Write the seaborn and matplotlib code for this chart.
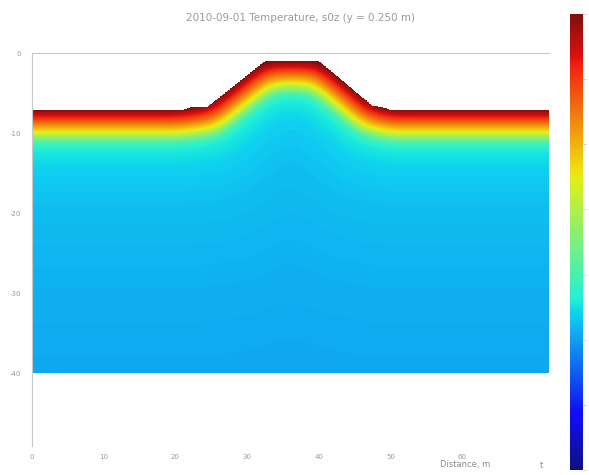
import numpy as np
import matplotlib
matplotlib.use("Agg")
import matplotlib.pyplot as plt
from matplotlib.colors import ListedColormap, Normalize
import seaborn as sns

# ground surface profile (distance m, elevation m)
surf_x = [0.0, 21.0, 22.0, 24.5, 32.5, 40.0, 47.5, 49.0, 50.0, 72.0]
surf_z = [-7.1, -7.1, -6.8, -6.7, -1.0, -1.0, -6.6, -6.8, -7.1, -7.1]
bottom_z = -40.0

# temperature (normalised colour value) versus depth below surface, m
prof_depth = [0.0, 0.6, 1.2, 2.0, 2.8, 3.5, 4.2, 5.0, 7.5, 12.0, 22.0, 33.0]
prof_temp = [1.00, 0.93, 0.85, 0.75, 0.64, 0.52, 0.42, 0.37, 0.34, 0.32, 0.305, 0.295]

title = "2010-09-01 Temperature, s0z (y = 0.250 m)"
xticks = [0, 10, 20, 30, 40, 50, 60]
yticks = [0, -10, -20, -30, -40]

sns.set_theme(style="white")
plt.rcParams['font.family'] = ['DejaVu Sans']

# slightly washed-out jet, like the reference
base = plt.get_cmap("jet")(np.linspace(0, 1, 256))
base[:, :3] = base[:, :3] * 0.88 + 0.06
cmap = ListedColormap(base)

# grid
gx = np.linspace(0, 72, 721)
gz = np.linspace(bottom_z, 0, 801)
X, Z = np.meshgrid(gx, gz)
S = np.interp(X, surf_x, surf_z)
inside = Z <= S

# signed distance to surface polyline (positive below ground)
dist = np.full(X.shape, np.inf)
for i in range(len(surf_x) - 1):
    ax_, az_ = surf_x[i], surf_z[i]
    bx_, bz_ = surf_x[i + 1], surf_z[i + 1]
    vx, vz = bx_ - ax_, bz_ - az_
    t = ((X - ax_) * vx + (Z - az_) * vz) / (vx * vx + vz * vz)
    t = np.clip(t, 0, 1)
    d = np.hypot(X - (ax_ + t * vx), Z - (az_ + t * vz))
    dist = np.minimum(dist, d)
sdist = np.where(inside, dist, -dist)


def blur(a, sig):
    dx, dz = gx[1] - gx[0], gz[1] - gz[0]
    nx, nz = int(4 * sig / dx), int(4 * sig / dz)
    kx = np.exp(-0.5 * (np.arange(-nx, nx + 1) * dx / sig) ** 2)
    kz = np.exp(-0.5 * (np.arange(-nz, nz + 1) * dz / sig) ** 2)
    kx /= kx.sum()
    kz /= kz.sum()
    a = np.pad(a, ((0, 0), (nx, nx)), mode="edge")
    a = np.apply_along_axis(lambda r: np.convolve(r, kx, mode="same"), 1, a)[:, nx:-nx]
    a = np.pad(a, ((nz, nz), (0, 0)), mode="reflect", reflect_type="odd")
    a = np.apply_along_axis(lambda c: np.convolve(c, kz, mode="same"), 0, a)[nz:-nz, :]
    return a


sd = blur(sdist, 1.3)
T = np.interp(np.clip(sd, 0, None), prof_depth, prof_temp)
T = np.ma.masked_where(~inside, T)

fig = plt.figure(figsize=(5.89, 4.75), dpi=100)
ax = fig.add_axes([32 / 589, 1 - 446 / 475, 517 / 589, 393 / 475])
ax.pcolormesh(X, Z, T, cmap=cmap, vmin=0, vmax=1, shading="nearest", rasterized=True)

ax.set_xlim(0, 72.1)
ax.set_ylim(-49.1, 0)
ax.set_xticks(xticks)
ax.set_yticks(yticks)
ax.set_xticklabels([str(v) for v in xticks])
ax.set_yticklabels([str(v) for v in yticks])
ax.tick_params(axis="both", labelsize=5, colors="#999999", length=3, width=0.6,
               direction="out", pad=5)
ax.tick_params(axis="x", pad=3)
for side in ["bottom", "right"]:
    ax.spines[side].set_visible(False)
for side in ["top", "left"]:
    ax.spines[side].set_color("#c8c8c8")
    ax.spines[side].set_linewidth(0.8)

fig.text(300 / 589, 1 - 18 / 475, title, ha="center", va="center",
         fontsize=7.5, color="#9a9a9a")
fig.text(490 / 589, 1 - 465 / 475, "Distance, m", ha="right", va="center",
         fontsize=6, color="#8a8a8a")
fig.text(541 / 589, 1 - 465 / 475, "t", ha="center", va="center",
         fontsize=6, color="#8a8a8a")

cax = fig.add_axes([570 / 589, 1 - 470 / 475, 13 / 589, 456 / 475])
sm = plt.cm.ScalarMappable(norm=Normalize(0, 1), cmap=cmap)
cb = fig.colorbar(sm, cax=cax, ticks=np.linspace(0, 1, 8))
cb.outline.set_visible(False)
cax.tick_params(length=2, width=0.5, colors="#bbbbbb")
cax.set_yticklabels([])

fig.savefig("out.png", dpi=100)
